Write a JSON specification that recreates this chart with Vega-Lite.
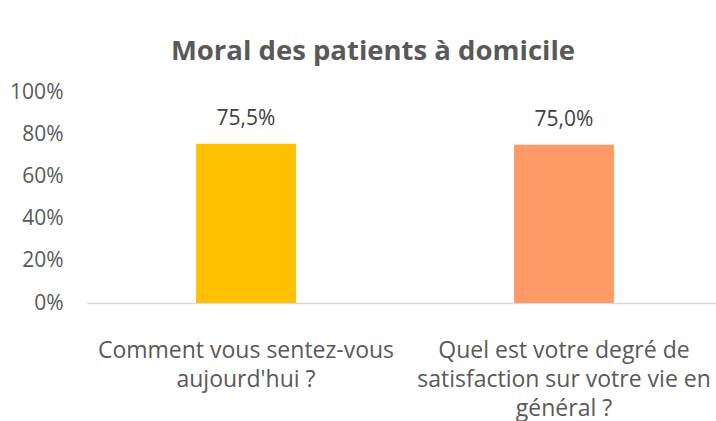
{
  "$schema": "https://vega.github.io/schema/vega-lite/v6.json",
  "autosize": "none",
  "width": 636,
  "height": 211,
  "padding": {"left": 87, "top": 92, "right": 0, "bottom": 118},
  "background": "white",
  "config": {
    "locale": {"number": {"decimal": ",", "thousands": " ", "grouping": [3], "currency": ["", " €"]}},
    "view": {"stroke": null},
    "font": "Open Sans"
  },
  "title": {
    "text": "Moral des patients à domicile",
    "font": "Open Sans",
    "fontSize": 27.5,
    "fontWeight": "bold",
    "color": "#595959",
    "anchor": "middle",
    "dx": -32,
    "offset": 16
  },
  "data": {
    "values": [
      {"question": "Comment vous sentez-vous aujourd'hui ?", "value": 0.755},
      {"question": "Quel est votre degré de satisfaction sur votre vie en général ?", "value": 0.75}
    ]
  },
  "encoding": {
    "x": {
      "field": "question",
      "type": "nominal",
      "sort": null,
      "scale": {"paddingInner": 0.686, "paddingOuter": 0.343},
      "axis": {
        "title": null,
        "labelAngle": 0,
        "domainColor": "#D9D9D9",
        "domainWidth": 1.5,
        "ticks": false,
        "labelFont": "Open Sans",
        "labelFontSize": 23,
        "labelColor": "#595959",
        "labelLineHeight": 29,
        "labelPadding": 36,
        "labelLimit": 400,
        "labelExpr": "datum.value == \"Comment vous sentez-vous aujourd'hui ?\" ? ['Comment vous sentez-vous', \"aujourd'hui ?\"] : ['Quel est votre degré de', 'satisfaction sur votre vie en', 'général ?']"
      }
    },
    "y": {
      "field": "value",
      "type": "quantitative",
      "scale": {"domain": [0, 1]},
      "axis": {
        "title": null,
        "format": ".0%",
        "values": [0, 0.2, 0.4, 0.6, 0.8, 1],
        "grid": false,
        "domain": false,
        "ticks": false,
        "labelFont": "Open Sans",
        "labelFontSize": 21,
        "labelColor": "#595959",
        "labelPadding": 24
      }
    }
  },
  "layer": [
    {
      "mark": {"type": "bar"},
      "encoding": {
        "color": {
          "field": "question",
          "type": "nominal",
          "scale": {"range": ["#FFC000", "#FF9966"]},
          "legend": null
        }
      }
    },
    {
      "mark": {"type": "text", "baseline": "bottom", "dy": -15, "font": "Open Sans", "fontSize": 21, "color": "#404040"},
      "encoding": {
        "text": {"field": "value", "type": "quantitative", "format": ".1%"}
      }
    }
  ]
}
